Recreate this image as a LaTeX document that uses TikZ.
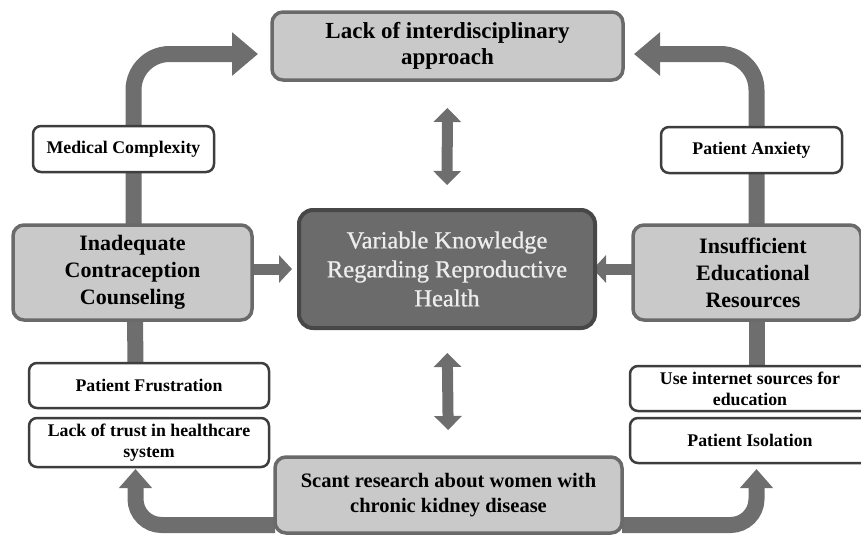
\documentclass[tikz,border=0pt]{standalone}
\usepackage{fontspec}
\setmainfont{Liberation Serif}
\newfontfamily\semiserif[FakeBold=0.8]{Liberation Serif}
\usetikzlibrary{arrows.meta,backgrounds}
\definecolor{agray}{HTML}{6E6E6E}
\definecolor{lfill}{HTML}{C9C9C9}
\definecolor{lborder}{HTML}{6A6A6A}
\definecolor{dfill}{HTML}{6B6B6B}
\definecolor{dborder}{HTML}{474747}
\definecolor{wborder}{HTML}{3E3E3E}
\definecolor{dtext}{HTML}{EDEDED}
\begin{document}
\begin{tikzpicture}[x=1pt,y=-1pt,
  greybox/.style={draw=lborder, fill=lfill, line width=3.5pt, rounded corners=11pt,
    inner sep=0pt, outer sep=0pt, align=center},
  darkbox/.style={draw=dborder, fill=dfill, line width=4pt, rounded corners=14pt,
    inner sep=0pt, outer sep=0pt, align=center, text=dtext,
    font=\semiserif\fontsize{24.5}{29}\selectfont},
  whitebox/.style={draw=wborder, fill=white, line width=2.5pt, rounded corners=8pt,
    inner sep=0pt, outer sep=0pt, align=center,
    font=\bfseries\fontsize{17.8}{21}\selectfont},
  bigtext/.style={font=\bfseries\fontsize{22}{27}\selectfont, align=center, inner sep=0pt},
  fatline/.style={draw=agray, line width=16pt},
  fatarrow/.style={fatline, -{Triangle[width=42pt,length=26pt]}},
  lowarrow/.style={fatline, -{Triangle[width=32pt,length=19pt]}},
  midarrow/.style={draw=agray, line width=11pt, -{Triangle[width=27pt,length=13pt]}},
  dblarrow/.style={draw=agray, line width=11pt,
    {Triangle[width=27pt,length=14pt]}-{Triangle[width=27pt,length=14pt]}}
]
\useasboundingbox (0,0) rectangle (861,536);
\clip (0,0) rectangle (861,536);

% boxes
\node[greybox, minimum width=351pt, minimum height=68pt,
  font=\bfseries\fontsize{23}{26}\selectfont] (top) at (447.5,46)
  {Lack of interdisciplinary\\approach};
\node[darkbox, minimum width=296pt, minimum height=118pt] (know) at (447,269)
  {Variable Knowledge\\Regarding Reproductive\\Health};
\node[greybox, minimum width=239pt, minimum height=95pt] (inad) at (132.5,272.5) {};
\node[bigtext] (inadT) at (132.5,272.5) {Inadequate\\Contraception\\Counseling};
\node[greybox, minimum width=228pt, minimum height=95pt] (res) at (747,272.5) {};
\node[bigtext] (resT) at (753,272.5) {Insufficient\\Educational\\Resources};
\node[greybox, minimum width=347pt, minimum height=76pt,
  font=\bfseries\fontsize{20.5}{25}\selectfont] (scant) at (448.5,495)
  {Scant research about women with\\chronic kidney disease};

\node[whitebox, minimum width=181pt, minimum height=46pt] (med) at (123.5,149) {Medical Complexity};
\node[whitebox, minimum width=181pt, minimum height=46pt] (anx) at (751.5,150) {Patient Anxiety};
\node[whitebox, minimum width=240pt, minimum height=45pt] (frus) at (149,385.5) {Patient Frustration};
\node[whitebox, minimum width=240pt, minimum height=49pt] (trust) at (149,442.5) {Lack of trust in healthcare\\system};
\node[whitebox, minimum width=240pt, minimum height=45pt] (web) at (750,388.5) {Use internet sources for\\education};
\node[whitebox, minimum width=240pt, minimum height=45pt] (iso) at (750,440.5) {Patient Isolation};

% connectors behind the boxes
\begin{scope}[on background layer]
  % top-left curved arrow
  \draw[fatarrow, rounded corners=36pt, shorten >=14pt]
    ([xshift=1pt]inad.north) |- ([yshift=-8pt]top.west);
  % top-right curved arrow
  \draw[fatarrow, rounded corners=36pt, shorten >=11pt]
    ([xshift=9.5pt]res.north) |- ([yshift=-8pt]top.east);
  % vertical links
  \draw[fatline] ([xshift=2.5pt]inad.south) -- ([xshift=-13.5pt]frus.north);
  \draw[fatline] ([xshift=9.5pt]res.south) -- ([xshift=6.5pt]web.north);
  % bottom curved arrows
  \draw[lowarrow, rounded corners=26pt, shorten >=2pt]
    ([yshift=-30pt]scant.west) -| ([xshift=-13.5pt]trust.south);
  \draw[lowarrow, rounded corners=26pt, shorten >=6pt]
    ([yshift=-30pt]scant.east) -| ([xshift=6.5pt]iso.south);
  % middle arrows into the centre box
  \draw[midarrow, shorten >=7pt] (inad.east |- know.west) -- (know.west);
  \draw[midarrow, shorten >=-2pt] (res.west |- know.east) -- (know.east);
  % double arrows
  \draw[dblarrow, shorten <=28pt, shorten >=25pt] (top.south) -- (know.north);
  \draw[dblarrow, shorten <=25pt, shorten >=27pt] (know.south) -- (scant.north);
\end{scope}
\end{tikzpicture}
\end{document}
